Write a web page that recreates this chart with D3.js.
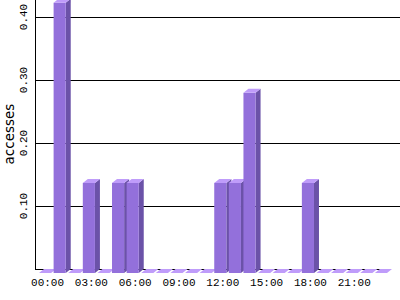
<!DOCTYPE html>
<html>
  <head>
    <meta charset="utf-8">
    <style>
      body { margin: 0; background: #fff; }
      .grid line { stroke: #000; shape-rendering: crispEdges; }
      .grid path { display: none; }
      .tick-label { font-family: "Liberation Mono", monospace; font-size: 11px; }
    </style>
  </head>
  <body>
    <div id="chart"></div>
    <script src="https://cdn.jsdelivr.net/npm/d3@7"></script>
    <script>
    // hours of the day and mean accesses per hour
    var hours = ["00:00","01:00","02:00","03:00","04:00","05:00","06:00","07:00",
                 "08:00","09:00","10:00","11:00","12:00","13:00","14:00","15:00",
                 "16:00","17:00","18:00","19:00","20:00","21:00","22:00","23:00"]
    var accesses = [0, 0.429, 0, 0.143, 0, 0.143, 0.143, 0,
                    0, 0, 0, 0, 0.143, 0.143, 0.286, 0,
                    0, 0, 0.143, 0, 0, 0, 0, 0]
    var xTickLabels = ["00:00","03:00","06:00","09:00","12:00","15:00","18:00","21:00"]
    var yTicks = [0.1, 0.2, 0.3, 0.4]

    var width = 400,
        height = 300,
        dx = 5, dy = 4  // depth of the 3d bars

    var svg = d3.select('#chart').append('svg')
        .attr('width', width)
        .attr('height', height)

    // back plane scale (grid), bars are drawn on the front plane (shifted by depth)
    var y = d3.scaleLinear().domain([0, 0.4]).range([269, 17])
    var x = d3.scaleBand().domain(hours).range([39, 387]).paddingInner(0.17).paddingOuter(0)

    // gridlines
    svg.append('g')
        .attr('class', 'grid')
        .attr('transform', 'translate(35,0)')
        .call(d3.axisRight(y).tickValues(yTicks).tickSize(width - 35).tickFormat(''))

    // axes lines
    svg.append('line').attr('x1', 35.5).attr('x2', 35.5).attr('y1', 0).attr('y2', 269.5)
        .attr('stroke', '#000')
    svg.append('line').attr('x1', 35).attr('x2', 390).attr('y1', 269.5).attr('y2', 269.5)
        .attr('stroke', '#000')

    var bw = x.bandwidth()
    var bars = svg.append('g').selectAll('g').data(hours).enter().append('g')

    bars.each(function(h, i) {
      var g = d3.select(this)
      var x0 = x(h), yf = y(accesses[i]) + dy, yb = y(0) + dy
      g.append('polygon')
        .attr('points', [[x0 + bw, yf], [x0 + bw + dx, yf - dy], [x0 + bw + dx, yb - dy], [x0 + bw, yb]].join(' '))
        .attr('fill', '#6b52a8')
      g.append('rect')
        .attr('x', x0).attr('y', yf).attr('width', bw).attr('height', yb - yf)
        .attr('fill', '#9370db')
      g.append('polygon')
        .attr('points', [[x0, yf], [x0 + dx, yf - dy], [x0 + bw + dx, yf - dy], [x0 + bw, yf]].join(' '))
        .attr('fill', '#bf9cfa')
    })

    // x tick labels
    var xa = svg.append('g')
        .attr('transform', 'translate(' + (dx / 2) + ',' + (y(0) + dy) + ')')
        .call(d3.axisBottom(x).tickValues(xTickLabels).tickSize(0).tickPadding(5))
    xa.select('.domain').remove()
    xa.selectAll('text').attr('class', 'tick-label').attr('font-family', null).attr('font-size', null).attr('fill', '#000')

    // y tick labels, rotated
    svg.append('g').selectAll('text').data(yTicks).enter().append('text')
        .attr('class', 'tick-label')
        .attr('transform', function(d) { return 'translate(27,' + y(d) + ') rotate(-90)' })
        .attr('text-anchor', 'middle')
        .text(function(d) { return d3.format('.2f')(d) })

    svg.append('text')
        .attr('transform', 'translate(14,134) rotate(-90)')
        .attr('text-anchor', 'middle')
        .style('font-family', 'DejaVu Sans, sans-serif')
        .style('font-size', '13.5px')
        .text('accesses')
    </script>
  </body>
</html>
